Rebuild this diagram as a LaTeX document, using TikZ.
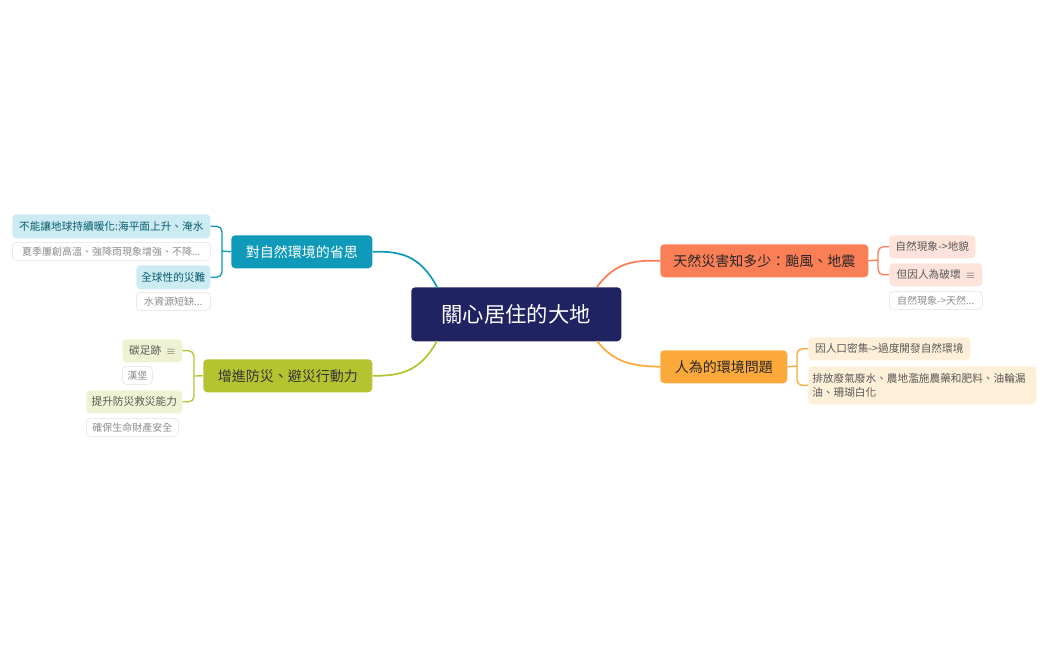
\documentclass[tikz,border=0pt]{standalone}
\usepackage{fontspec}
\setmainfont{Noto Sans CJK TC}
\begin{document}
\begin{tikzpicture}[x=0.75pt,y=-0.75pt,
  box/.style={rounded corners=3pt,inner sep=0pt,anchor=north west},
  mainbox/.style={box,font=\fontsize{10.5}{12}\selectfont},
  kid/.style={box,font=\fontsize{8}{10}\selectfont},
  notebox/.style={box,draw=black!12,fill=white,text=black!45,font=\fontsize{7.5}{9}\selectfont},
  conn/.style={line width=1.3pt},
  br/.style={line width=1pt,rounded corners=4pt}]
\useasboundingbox (0,0) rectangle (1049,650);
\definecolor{navy}{HTML}{1F2362}
\definecolor{cblue}{HTML}{0E9AB8}
\definecolor{lblue}{HTML}{CDEBF3}
\definecolor{cgreen}{HTML}{B4C431}
\definecolor{lgreen}{HTML}{EEF2D2}
\definecolor{cred}{HTML}{FA7E56}
\definecolor{lred}{HTML}{FDE3DA}
\definecolor{corange}{HTML}{FBA93B}
\definecolor{lorange}{HTML}{FEEFD8}
% center
\node[box,fill=navy,text=white,minimum width=210*0.75pt,minimum height=54*0.75pt,font=\fontsize{16}{18}\selectfont] (c) at (411,287) {關心居住的大地};
% mains
\node[mainbox,fill=cblue,text=white,minimum width=141*0.75pt,minimum height=33*0.75pt] (b) at (231,235) {對自然環境的省思};
\node[mainbox,fill=cgreen,text=black!80,minimum width=169*0.75pt,minimum height=33*0.75pt] (g) at (203,359) {增進防災、避災行動力};
\node[mainbox,fill=cred,text=black!85,minimum width=208*0.75pt,minimum height=33*0.75pt] (r) at (660,244) {天然災害知多少：颱風、地震};
\node[mainbox,fill=corange,text=black!85,minimum width=127*0.75pt,minimum height=33*0.75pt] (o) at (660,350) {人為的環境問題};
% blue kids
\node[kid,fill=lblue,text=cblue!60!black,minimum width=198*0.75pt,minimum height=24*0.75pt] (b1) at (12,214) {不能讓地球持續暖化:海平面上升、淹水};
\node[notebox,minimum width=198*0.75pt,minimum height=18*0.75pt] (b1n) at (12,242) {夏季屢創高溫、強降雨現象增強、不降...};
\node[kid,fill=lblue,text=cblue!60!black,minimum width=74*0.75pt,minimum height=24*0.75pt] (b2) at (136,265) {全球性的災難};
\node[notebox,minimum width=74*0.75pt,minimum height=18*0.75pt] (b2n) at (136,292) {水資源短缺...};
% green kids
\node[kid,fill=lgreen,text=black!65,minimum width=60*0.75pt,minimum height=23*0.75pt] (g1) at (122,339) {碳足跡\enspace$\equiv$};
\node[notebox,minimum width=30*0.75pt,minimum height=18*0.75pt] (g1n) at (122,366) {漢堡};
\node[kid,fill=lgreen,text=black!65,minimum width=96*0.75pt,minimum height=23*0.75pt] (g2) at (86,390) {提升防災救災能力};
\node[notebox,minimum width=92*0.75pt,minimum height=18*0.75pt] (g2n) at (86,418) {確保生命財產安全};
% red kids
\node[kid,fill=lred,text=black!65,minimum width=86*0.75pt,minimum height=23*0.75pt] (r1) at (889,235) {自然現象->地貌};
\node[kid,fill=lred,text=black!65,minimum width=93*0.75pt,minimum height=23*0.75pt] (r2) at (889,263) {但因人為破壞\enspace$\equiv$};
\node[notebox,minimum width=93*0.75pt,minimum height=18*0.75pt] (r2n) at (889,291) {自然現象->天然...};
% orange kids
\node[kid,fill=lorange,text=black!65,minimum width=162*0.75pt,minimum height=23*0.75pt] (o1) at (808,337) {因人口密集->過度開發自然環境};
\node[kid,fill=lorange,text=black!65,minimum height=38*0.75pt,text width=228*0.75pt,align=left,font=\fontsize{8}{11}\selectfont] (o2) at (808,366) {\hspace*{3pt}排放廢氣廢水、農地濫施農藥和肥料、油輪漏\\\hspace*{3pt}油、珊瑚白化};
% center connectors
\draw[conn,cblue] (437,287) .. controls (420,255) and (400,251) .. (b.east);
\draw[conn,cgreen] (437,341) .. controls (420,372) and (400,376) .. (g.east);
\draw[conn,cred] (597,287) .. controls (615,262) and (635,260) .. (r.west);
\draw[conn,corange] (597,341) .. controls (615,364) and (635,366) .. (o.west);
% brackets
\draw[br,cblue] (b.west) -- (222,251);
\draw[br,cblue] (222,251) |- (b1.east);
\draw[br,cblue] (222,251) |- (b2.east);
\draw[br,cgreen] (g.west) -- (194,376);
\draw[br,cgreen] (194,376) |- (g1.east);
\draw[br,cgreen] (194,376) |- (g2.east);
\draw[br,cred] (r.east) -- (878,260);
\draw[br,cred] (878,260) |- (r1.west);
\draw[br,cred] (878,260) |- (r2.west);
\draw[br,corange] (o.east) -- (797,366);
\draw[br,corange] (797,366) |- (o1.west);
\draw[br,corange] (797,366) |- (o2.west);
\end{tikzpicture}
\end{document}
